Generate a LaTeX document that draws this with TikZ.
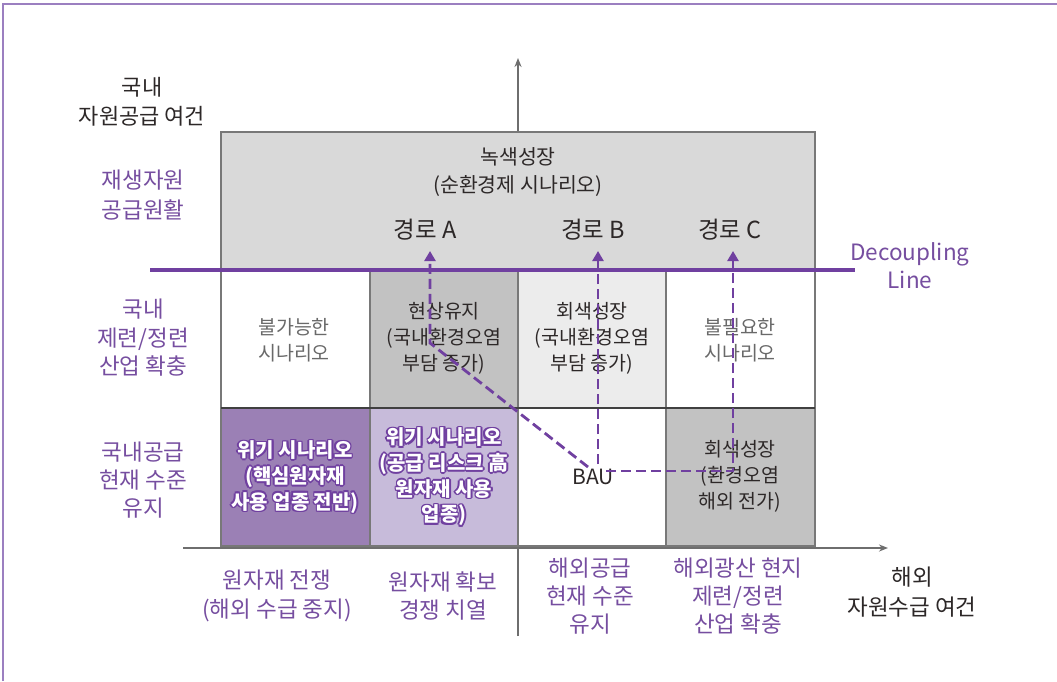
\documentclass[tikz,border=0pt]{standalone}
\usepackage{fontspec}
\setmainfont{Noto Sans CJK KR}
\usetikzlibrary{arrows.meta}
\definecolor{frame}{RGB}{155,127,192}
\definecolor{purp}{RGB}{112,64,160}
\definecolor{ptext}{RGB}{118,78,160}
\definecolor{cellp}{RGB}{155,128,181}
\definecolor{celllp}{RGB}{199,187,218}
\definecolor{cellg}{RGB}{194,194,194}
\definecolor{celltop}{RGB}{217,217,217}
\definecolor{celllg}{RGB}{236,236,236}
\definecolor{gridc}{RGB}{120,120,120}
\definecolor{axisc}{RGB}{110,110,110}
\definecolor{dtext}{RGB}{45,40,40}
\definecolor{gtext}{RGB}{105,105,105}
\tikzset{
  txt/.style={align=center,inner sep=0pt,text=dtext,font=\fontsize{19.5}{26}\selectfont},
  gtxt/.style={txt,text=gtext},
  ptxt/.style={txt,text=ptext,font=\fontsize{22.5}{28.5}\selectfont},
  ttl/.style={txt,font=\fontsize{22}{29}\selectfont},
  pathlbl/.style={txt,font=\fontsize{23.5}{26}\selectfont},
  cellbox/.style={draw=gridc,line width=1.2pt},
  axis/.style={draw=axisc,line width=1.8pt,-{Stealth[length=9pt,width=7pt]}},
  route/.style={draw=purp,line width=2.8pt,dash pattern=on 10pt off 5pt,-{Triangle[length=10pt,width=11pt]}},
  crisis/.style={txt,font=\fontsize{20}{25.7}\selectfont\bfseries},
}
\newcommand{\crisistext}[4]{%
  \foreach \dx/\dy in {1.6/0,-1.6/0,0/1.6,0/-1.6,1.15/1.15,-1.15/1.15,1.15/-1.15,-1.15/-1.15}
    {\node[crisis,text=purp] at ([shift={(\dx,\dy)}]#2,#3) {#4};}
  \node[crisis,text=white] (#1) at (#2,#3) {#4};
}
\begin{document}
\begin{tikzpicture}[x=1pt,y=-1pt]
\useasboundingbox (0,0) rectangle (1057,681);
\fill[white] (0,0) rectangle (1057,681);
% frame
\draw[frame,line width=2.2pt] (3,681) -- (3,4) -- (1057,4);
% axes (drawn first; the top box covers the vertical one)
\coordinate (xs) at (183,548);
\coordinate (xe) at (888,548);
\coordinate (ys) at (518,636);
\coordinate (ye) at (518,58);
\draw[axis] (xs) -- (xe);
\draw[axis] (ys) -- (ye);
% cells
\fill[celltop] (221,132) rectangle (815,270);
\fill[white] (221,270) rectangle (370,408);
\fill[cellg] (370,270) rectangle (518,408);
\fill[celllg] (518,270) rectangle (666,408);
\fill[white] (666,270) rectangle (815,408);
\fill[cellp] (221,408) rectangle (370,546);
\fill[celllp] (370,408) rectangle (518,546);
\fill[white] (518,408) rectangle (666,546);
\fill[cellg] (666,408) rectangle (815,546);
\draw[cellbox] (221,132) rectangle (815,546);
\foreach \x in {370,518,666} \draw[cellbox] (\x,270) -- (\x,546);
\draw[draw=black!75,line width=1.4pt] (221,408) -- (815,408);
% decoupling line
\coordinate (dl1) at (150,270);
\coordinate (dl2) at (855,270);
\draw[purp,line width=3.6pt] (dl1) -- (dl2);
\node[ptxt,font=\fontsize{22.5}{28}\selectfont] (dec) at (910,266) {Decoupling\\Line};
% axis titles
\node[ttl] (ytitle) at (142,102) {국내\\자원공급 여건};
\node[ttl,font=\fontsize{22.5}{30}\selectfont] (xtitle) at (912,592) {해외\\자원수급 여건};
% left labels
\node[ptxt,font=\fontsize{22.5}{30}\selectfont] (l1) at (143,195) {재생자원\\공급원활};
\node[ptxt] (l2) at (143,338) {국내\\제련/정련\\산업 확충};
\node[ptxt,font=\fontsize{22.5}{28}\selectfont] (l3) at (143,480) {국내공급\\현재 수준\\유지};
% bottom labels
\node[ptxt] (b1) at (277,596) {원자재 전쟁\\(해외 수급 중지)};
\node[ptxt] (b2) at (443,596) {원자재 확보\\경쟁 치열};
\node[ptxt,font=\fontsize{22.5}{28}\selectfont] (b3) at (590,596) {해외공급\\현재 수준\\유지};
\node[ptxt,font=\fontsize{22.5}{28}\selectfont] (b4) at (738,596) {해외광산 현지\\제련/정련\\산업 확충};
% top cell
\node[txt,font=\fontsize{20.5}{28}\selectfont] (green) at (518,172) {녹색성장\\(순환경제 시나리오)};
\node[pathlbl] (pA) at (425,230) {경로 A};
\node[pathlbl] (pB) at (593,230) {경로 B};
\node[pathlbl] (pC) at (730,230) {경로 C};
% row 2
\node[gtxt] (c21) at (294,340) {불가능한\\시나리오};
\node[txt] (c22) at (444,338) {현상유지\\(국내환경오염\\부담 증가)};
\node[txt] (c23) at (592,338) {회색성장\\(국내환경오염\\부담 증가)};
\node[gtxt] (c24) at (740,340) {불필요한\\시나리오};
% row 3
\crisistext{c31}{295}{477}{위기 시나리오\\(핵심원자재\\사용 업종 전반)}
\crisistext{c32}{444}{477}{위기 시나리오\\(공급 리스크 高\\원자재 사용\\업종)}
\node[txt,font=\fontsize{21}{26}\selectfont] (bau) at (593,477) {BAU};
\node[txt] (c34) at (740,476) {회색성장\\(환경오염\\해외 전가)};
% routes
\coordinate (sA) at (588,467);
\coordinate (kA) at (430,343);
\coordinate (tA) at (430,251);
\coordinate (sB) at (598,464);
\coordinate (tB) at (598,251);
\coordinate (sC) at (606,471);
\coordinate (kC) at (733,471);
\coordinate (tC) at (733,251);
\draw[route] (sA) -- (kA) -- (tA);
\draw[route] (sB) -- (tB);
\draw[route] (sC) -- (kC) -- (tC);
\end{tikzpicture}
\end{document}
